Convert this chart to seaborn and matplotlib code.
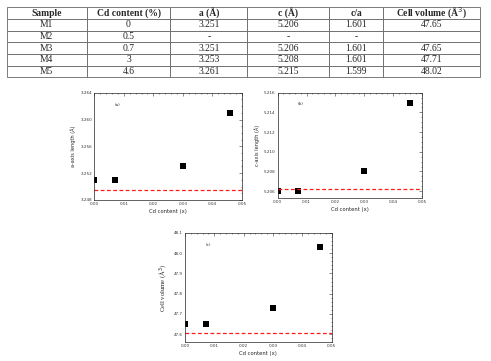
import matplotlib
matplotlib.use('Agg')
import matplotlib.pyplot as plt
import seaborn as sns
import pandas as pd

# table data
col_labels = ['Sample', 'Cd content (%)', 'a (Å)', 'c (Å)', 'c/a', 'Cell volume (Å$^3$)']
samples = ['M1', 'M2', 'M3', 'M4', 'M5']
cd_pct = ['0', '0.5', '0.7', '3', '4.6']
a_tab = ['3.251', '-', '3.251', '3.253', '3.261']
c_tab = ['5.206', '-', '5.206', '5.208', '5.215']
ca_tab = ['1.601', '-', '1.601', '1.601', '1.599']
vol_tab = ['47.65', '', '47.65', '47.71', '48.02']

# plotted points
cd_x = [0.0, 0.007, 0.03, 0.046]
a_len = [3.251, 3.251, 3.253, 3.261]
c_len = [5.206, 5.206, 5.208, 5.215]
cell_vol = [47.65, 47.65, 47.73, 48.03]
ref_a = 3.2495
ref_c = 5.2062
ref_vol = 47.608

sns.set_style('white')
plt.rcParams['font.family'] = ['DejaVu Sans']

fig = plt.figure(figsize=(4.91, 3.61), dpi=100)
W, H = 491, 361

def box(l, t, r, b):
    return [l / W, 1 - b / H, (r - l) / W, (b - t) / H]

# --- table ---
tax = fig.add_axes(box(6.7, 7.3, 480, 77.3))
tax.axis('off')
rows = list(zip(samples, cd_pct, a_tab, c_tab, ca_tab, vol_tab))
widths = [80, 84, 77, 82, 54, 97]
tot = sum(widths)
tbl = tax.table(cellText=rows, colLabels=col_labels, loc='center', cellLoc='center',
                colWidths=[w / tot for w in widths], bbox=[0, 0, 1, 1])
tbl.auto_set_font_size(False)
for (r, c), cell in tbl.get_celld().items():
    cell.set_edgecolor('#666666')
    cell.set_linewidth(0.6)
    cell.get_text().set_fontfamily('Liberation Serif')
    cell.get_text().set_fontsize(6.9)
    if r == 0:
        cell.get_text().set_fontweight('bold')


def panel(rect, y, ref, ylim, yticks, ytl, ylabel, tag, serif_label=False):
    ax = fig.add_axes(rect)
    df = pd.DataFrame({'x': cd_x, 'y': y})
    sns.scatterplot(data=df, x='x', y='y', marker='s', color='black', s=22,
                    linewidth=0, ax=ax)
    ax.axhline(ref, color='#ff1a1a', lw=0.9, ls=(0, (3, 2)))
    ax.set_xlim(0, 0.05)
    ax.set_ylim(*ylim)
    ax.set_xticks([0, 0.01, 0.02, 0.03, 0.04, 0.05])
    ax.set_xticklabels(['0.00', '0.01', '0.02', '0.03', '0.04', '0.05'])
    ax.set_yticks(yticks)
    ax.set_yticklabels(ytl)
    ax.minorticks_on()
    ax.tick_params(which='both', direction='in', top=True, right=True,
                   labelsize=3, width=0.4, colors='#333333', pad=1.5)
    ax.tick_params(which='major', length=2)
    ax.tick_params(which='minor', length=1)
    for s in ax.spines.values():
        s.set_linewidth(0.5)
        s.set_color('#222222')
    ax.set_xlabel('Cd content (x)', fontsize=3.8, labelpad=2)
    if serif_label:
        ax.set_ylabel(ylabel, fontsize=4.8, family='Liberation Serif', labelpad=3)
    else:
        ax.set_ylabel(ylabel, fontsize=3.6, labelpad=3)
    ax.text(0.14, 0.88, tag, transform=ax.transAxes, fontsize=3, color='#333333')
    return ax


panel(box(94.3, 92.7, 242, 200), a_len, ref_a, (3.248, 3.264),
      [3.248, 3.252, 3.256, 3.260, 3.264],
      ['3.248', '3.252', '3.256', '3.260', '3.264'], 'a-axis length (Å)', '(a)')
panel(box(277.7, 92.7, 422, 198), c_len, ref_c, (5.2053, 5.216),
      [5.206, 5.208, 5.210, 5.212, 5.214, 5.216],
      ['5.206', '5.208', '5.210', '5.212', '5.214', '5.216'], 'c-axis length (Å)', '(b)')
panel(box(185, 233, 331.7, 342.3), cell_vol, ref_vol, (47.56, 48.1),
      [47.6, 47.7, 47.8, 47.9, 48.0, 48.1],
      ['47.6', '47.7', '47.8', '47.9', '48.0', '48.1'], 'Cell volume (Å$^3$)', '(c)',
      serif_label=True)

fig.savefig('out.png', dpi=100)
